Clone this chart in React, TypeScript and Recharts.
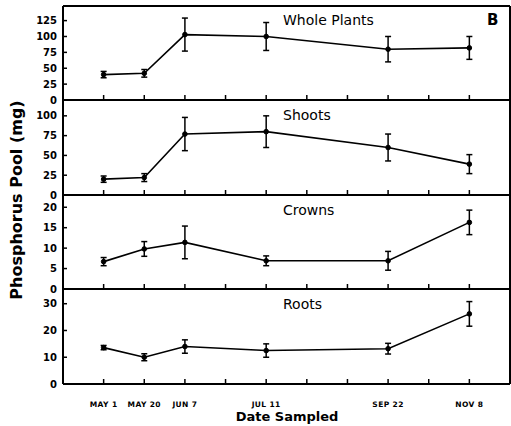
import { LineChart, Line, XAxis, YAxis, ErrorBar } from 'recharts';

const dateLabels = ['MAY 1', 'MAY 20', 'JUN 7', 'JUL 11', 'SEP 22', 'NOV 8'];
const datePos = [1, 2, 3, 5, 8, 10];
const xTicks = [1, 2, 3, 4, 5, 6, 7, 8, 9, 10];

const wholeMean = [40, 42, 103, 100, 80, 82];
const wholeErr = [5, 6, 26, 22, 20, 18];
const shootMean = [20, 22, 77, 80, 60, 39];
const shootErr = [4, 5, 21, 20, 17, 12];
const crownMean = [6.7, 9.8, 11.4, 6.9, 6.9, 16.3];
const crownErr = [1, 1.8, 4, 1.2, 2.3, 3];
const rootMean = [13.6, 10, 14, 12.5, 13.2, 26.2];
const rootErr = [0.8, 1.3, 2.5, 2.5, 2, 4.6];

const FONT = '"DejaVu Sans", Verdana, sans-serif';
const PAD = 6;

// tick marks point into the plot, labels sit outside
const LeftTick = (props: any) => {
  const { x, y, payload } = props;
  return (
    <g>
      <line x1={x} x2={x + 4} y1={y} y2={y} stroke="#000" strokeWidth={1.5} />
      <text x={x - 6} y={y} dy="0.36em" textAnchor="end" fill="#000" fontSize={10} fontWeight="bold" fontFamily={FONT}>
        {payload.value}
      </text>
    </g>
  );
};

const RightTick = (props: any) => {
  const { x, y } = props;
  return <line x1={x} x2={x - 4} y1={y} y2={y} stroke="#000" strokeWidth={1.5} />;
};

const makeBottomTick = (showLabel: boolean) => (props: any) => {
  const { x, y, payload } = props;
  const i = datePos.indexOf(payload.value);
  return (
    <g>
      <line x1={x} x2={x} y1={y} y2={y - 5} stroke="#000" strokeWidth={1.5} />
      {showLabel && i >= 0 && (
        <text x={x} y={y + 23} textAnchor="middle" fill="#000" fontSize={7.5} fontWeight="bold" fontFamily={FONT} letterSpacing={0.4}>
          {dateLabels[i]}
        </text>
      )}
    </g>
  );
};

interface PanelProps {
  top: number;
  height: number;
  mean: number[];
  err: number[];
  domain: [number, number];
  ticks: number[];
  title: string;
  bottom?: boolean;
  topBorder?: boolean;
}

function Panel({ top, height, mean, err, domain, ticks, title, bottom, topBorder }: PanelProps) {
  const data = datePos.map((x, i) => ({ x, y: mean[i], e: err[i] }));
  const axisH = bottom ? 30 : 1;
  const axisLine = { stroke: '#000', strokeWidth: 2 };
  return (
    <div style={{ position: 'absolute', left: 0, top: top - PAD }}>
      <LineChart
        width={511}
        height={height + axisH + PAD * 2}
        data={data}
        margin={{ top: PAD, right: 0, bottom: PAD, left: 0 }}
      >
        <XAxis
          dataKey="x"
          type="number"
          domain={[0, 11]}
          ticks={xTicks}
          interval={0}
          height={axisH}
          axisLine={axisLine}
          tickLine={false}
          tickSize={0}
          tickMargin={0}
          tick={makeBottomTick(!!bottom)}
        />
        {topBorder && (
          <XAxis
            xAxisId="top"
            orientation="top"
            type="number"
            domain={[0, 11]}
            height={1}
            axisLine={axisLine}
            tickLine={false}
            tick={false}
          />
        )}
        <YAxis
          type="number"
          domain={domain}
          ticks={ticks}
          interval={0}
          width={63}
          axisLine={axisLine}
          tickLine={false}
          tickSize={0}
          tickMargin={0}
          tick={<LeftTick />}
        />
        <YAxis
          yAxisId="r"
          orientation="right"
          type="number"
          domain={domain}
          ticks={ticks}
          interval={0}
          width={1}
          axisLine={axisLine}
          tickLine={false}
          tickSize={0}
          tickMargin={0}
          tick={<RightTick />}
        />
        <Line
          dataKey="y"
          stroke="#000"
          strokeWidth={1.6}
          dot={{ r: 2.3, fill: '#000', stroke: '#000', strokeWidth: 1 }}
          isAnimationActive={false}
        >
          <ErrorBar dataKey="e" width={3} stroke="#000" strokeWidth={1.5} direction="y" />
        </Line>
      </LineChart>
      <div
        style={{
          position: 'absolute',
          left: 283,
          top: PAD + 8,
          fontFamily: FONT,
          fontSize: 14,
          color: '#000',
          lineHeight: '14px',
          whiteSpace: 'nowrap',
        }}
      >
        {title}
      </div>
    </div>
  );
}

export default function App() {
  return (
    <div style={{ position: 'absolute', left: 0, top: 0, width: 511, height: 426, background: '#fff', overflow: 'hidden' }}>
      <Panel top={5} height={95} mean={wholeMean} err={wholeErr} domain={[0, 148]} ticks={[0, 25, 50, 75, 100, 125]} title="Whole Plants" topBorder />
      <Panel top={100} height={95} mean={shootMean} err={shootErr} domain={[0, 120]} ticks={[0, 25, 50, 75, 100]} title="Shoots" />
      <Panel top={195} height={94} mean={crownMean} err={crownErr} domain={[0, 23]} ticks={[0, 5, 10, 15, 20]} title="Crowns" />
      <Panel top={289} height={95} mean={rootMean} err={rootErr} domain={[0, 35.5]} ticks={[0, 10, 20, 30]} title="Roots" bottom />
      <div style={{ position: 'absolute', left: 487, top: 11, fontFamily: FONT, fontWeight: 'bold', fontSize: 15, color: '#000' }}>B</div>
      <div
        style={{
          position: 'absolute',
          left: 16,
          top: 200,
          transform: 'translate(-50%, -50%) rotate(-90deg)',
          fontFamily: FONT,
          fontWeight: 'bold',
          fontSize: 16,
          color: '#000',
          whiteSpace: 'nowrap',
        }}
      >
        Phosphorus Pool (mg)
      </div>
      <div
        style={{
          position: 'absolute',
          left: 287,
          top: 409,
          transform: 'translateX(-50%)',
          fontFamily: FONT,
          fontWeight: 'bold',
          fontSize: 13,
          color: '#000',
          whiteSpace: 'nowrap',
        }}
      >
        Date Sampled
      </div>
    </div>
  );
}
